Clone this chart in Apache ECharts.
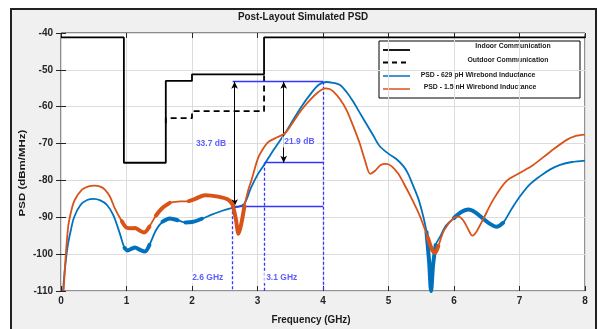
<!DOCTYPE html>
<html>
<head>
<meta charset="utf-8">
<script src="https://cdn.jsdelivr.net/npm/echarts@6/dist/echarts.min.js"></script>
<style>
  html, body { margin: 0; padding: 0; background: #fff; }
  #chart { width: 598px; height: 329px; }
</style>
</head>
<body>
<div id="chart"></div>
<script>
// PSD curves (GHz, dBm/MHz)
const freq629 = [0.03, 0.06, 0.1, 0.15, 0.2, 0.3, 0.4, 0.5, 0.6, 0.7, 0.8, 0.9, 0.97, 1.02, 1.08, 1.13, 1.2, 1.28, 1.35, 1.45, 1.55, 1.66, 1.78, 1.9, 2.0, 2.15, 2.3, 2.45, 2.6, 2.7, 2.8, 2.9, 3.0, 3.1, 3.25, 3.42, 3.55, 3.67, 3.8, 3.93, 4.05, 4.15, 4.26, 4.36, 4.46, 4.56, 4.67, 4.77, 4.87, 5.02, 5.12, 5.23, 5.3, 5.38, 5.46, 5.53, 5.58, 5.62, 5.65, 5.68, 5.72, 5.79, 5.88, 6.0, 6.1, 6.22, 6.32, 6.44, 6.55, 6.65, 6.75, 6.87, 7.0, 7.15, 7.31, 7.47, 7.62, 7.8, 8.0];
const psd629 = [-110, -104, -98, -93.5, -90, -86.6, -85.3, -85.0, -85.4, -86.6, -89.5, -94.5, -98.3, -99, -98.5, -98.2, -98.8, -99.3, -97.5, -93.5, -91.2, -90.3, -90.8, -91.4, -91.3, -90.4, -89.3, -88.3, -87.5, -87.2, -86.3, -82, -78.5, -75.8, -71.6, -67.2, -63.4, -60, -56.8, -54.1, -53.3, -53.5, -54.1, -56, -58.6, -61.6, -64.9, -67.9, -70.8, -73.0, -74.2, -76.2, -78.2, -81.6, -85.2, -89.7, -94, -102, -110, -103, -97.5, -95.2, -92.2, -90.2, -88.7, -87.9, -88.6, -90.3, -91.8, -92.6, -91.5, -88, -84.5, -81.2, -78.9, -77, -75.8, -75, -74.6];

const freq15 = [0.04, 0.07, 0.11, 0.16, 0.21, 0.32, 0.42, 0.51, 0.6, 0.67, 0.75, 0.82, 0.93, 1.0, 1.08, 1.13, 1.2, 1.27, 1.35, 1.45, 1.54, 1.66, 1.82, 1.95, 2.05, 2.2, 2.4, 2.55, 2.62, 2.67, 2.71, 2.75, 2.8, 2.86, 2.91, 3.01, 3.1, 3.17, 3.3, 3.42, 3.55, 3.67, 3.8, 3.93, 4.03, 4.1, 4.16, 4.26, 4.36, 4.46, 4.56, 4.64, 4.72, 4.8, 4.88, 4.97, 5.05, 5.15, 5.23, 5.35, 5.48, 5.6, 5.67, 5.71, 5.76, 5.85, 6.0, 6.07, 6.14, 6.21, 6.28, 6.35, 6.44, 6.6, 6.8, 7.0, 7.21, 7.47, 7.72, 7.85, 8.0];
const psd15 = [-110, -101, -92.5, -88, -85.3, -82.5, -81.6, -81.4, -81.7, -82.5, -84.5, -87.5, -91.1, -92.8, -93, -92.9, -93.6, -94.1, -92.5, -89.5, -87.6, -86.1, -85.7, -85.6, -85, -84, -84.4, -85.2, -86.5, -90.5, -94.5, -92, -87, -82.5, -79.8, -73.9, -71, -69.5, -68.3, -67.2, -64, -60.9, -58.2, -56, -55.0, -55.2, -55.9, -58, -60.9, -65.2, -69.9, -74.5, -78.2, -77.3, -75.8, -75.5, -76.2, -78.2, -80.7, -84.8, -89.7, -95.5, -99, -99.6, -97.8, -93.5, -90.1, -89.8, -90.8, -93, -95, -93.7, -90.7, -85.2, -80.2, -78, -75.8, -72.2, -69.0, -68, -67.6];

// spectral masks (outdoor only where it differs from indoor)
const indoorFreq = [0, 0.96, 0.96, 1.6, 1.6, 2.0, 2.0, 3.1, 3.1, 8];
const indoorPsd = [-41.2, -41.2, -75.2, -75.2, -53.0, -53.0, -51.2, -51.2, -41.2, -41.2];
const outdoorFreq = [1.6, 1.6, 2.0, 2.0, 3.1, 3.1];
const outdoorPsd = [-64.5, -63.1, -63.1, -61.2, -61.2, -51.2];

// frequency ranges where the traces are drawn as a thick ripple band
const band629 = [[0.97, 1.36], [1.55, 1.8], [1.9, 2.15], [5.58, 5.72], [6.0, 6.75]];
const band15 = [[0.93, 1.36], [1.45, 1.72], [1.95, 2.62], [2.62, 2.8], [5.6, 5.8]];

// annotation values
const refTop = -53.2, refLow = -87.0, refMid = -75.2;
const fLeft = 2.62, fMid = 3.11, fPeak = 4.0;
const arrowX = [2.65, 3.4];
const annotText = ['33.7 dB', '21.9 dB', '2.6 GHz', '3.1 GHz'];
const annotX = [2.29, 3.64, 2.24, 3.37];
const annotY = [-70.1, -69.6, -106.4, -106.4];

const xTicks = [0, 1, 2, 3, 4, 5, 6, 7, 8];
const yTicks = [-110, -100, -90, -80, -70, -60, -50, -40];

const FONT = "'Liberation Sans', Arial, sans-serif";
const BLUE = '#0072BD', ORANGE = '#D95319', REF = '#3434ff';
const NARROW = 0.86; // the original uses a condensed face

function pairs(xs, ys) { return xs.map((x, i) => [x, ys[i]]); }
function bandSeries(xs, ys, ranges, color, z) {
  return ranges.map(r => ({
    type: 'line', symbol: 'none', silent: true, z: z, smooth: 0.3,
    data: pairs(xs, ys).filter(p => p[0] >= r[0] && p[0] <= r[1]),
    lineStyle: { color: color, width: 4, cap: 'round', join: 'round' }
  }));
}
function narrowText(text, x, y, size, extra) {
  return Object.assign({
    type: 'text', x: x, y: y, scaleX: NARROW, silent: true,
    style: { text: text, font: 'bold ' + size + 'px ' + FONT, fill: '#1a1a1a', align: 'center', verticalAlign: 'middle' }
  }, extra || {});
}

const chart = echarts.init(document.getElementById('chart'));

const axisLabelStyle = { color: '#262626', fontFamily: FONT, fontWeight: 'bold', fontSize: 10 };
const tickStyle = { show: true, inside: true, length: 5, lineStyle: { color: '#262626' } };

const option = {
  animation: false,
  backgroundColor: '#fff',
  grid: {
    left: 61, top: 33, width: 524, height: 258, show: true,
    backgroundColor: '#fff', borderColor: '#262626', borderWidth: 1
  },
  xAxis: [
    {
      type: 'value', min: xTicks[0], max: xTicks[xTicks.length - 1], interval: 1,
      axisLine: { show: false }, axisTick: tickStyle,
      axisLabel: Object.assign({ margin: 5 }, axisLabelStyle),
      splitLine: { show: true, lineStyle: { color: '#dcdcdc' } }
    },
    {
      type: 'value', position: 'top', min: 0, max: 8, interval: 1,
      axisLine: { show: false }, axisTick: tickStyle, axisLabel: { show: false }, splitLine: { show: false }
    }
  ],
  yAxis: [
    {
      type: 'value', min: yTicks[0], max: yTicks[yTicks.length - 1], interval: 10,
      axisLine: { show: false }, axisTick: tickStyle,
      axisLabel: Object.assign({ margin: 8 }, axisLabelStyle),
      splitLine: { show: true, lineStyle: { color: '#dcdcdc' } }
    },
    {
      type: 'value', position: 'right', min: -110, max: -40, interval: 10,
      axisLine: { show: false }, axisTick: tickStyle, axisLabel: { show: false }, splitLine: { show: false }
    }
  ],
  series: [
    {
      name: 'Outdoor Communication', type: 'line', symbol: 'none', z: 2,
      data: pairs(outdoorFreq, outdoorPsd),
      lineStyle: { color: '#000', width: 1.8, type: [6, 4] }
    },
    {
      name: 'Indoor Communication', type: 'line', symbol: 'none', z: 3,
      data: pairs(indoorFreq, indoorPsd),
      lineStyle: { color: '#000', width: 1.8 }
    },
    {
      name: 'PSD - 629 pH Wirebond Inductance', type: 'line', symbol: 'none', smooth: 0.3, z: 4,
      data: pairs(freq629, psd629), lineStyle: { color: BLUE, width: 1.8 }
    },
    ...bandSeries(freq629, psd629, band629, BLUE, 4),
    {
      name: 'PSD - 1.5 nH Wirebond Inductance', type: 'line', symbol: 'none', smooth: 0.3, z: 5,
      data: pairs(freq15, psd15), lineStyle: { color: ORANGE, width: 1.8 }
    },
    ...bandSeries(freq15, psd15, band15, ORANGE, 5),
    {
      // reference lines
      type: 'line', data: [], z: 6, silent: true,
      markLine: {
        symbol: 'none', silent: true, animation: false, label: { show: false },
        lineStyle: { color: REF, width: 1.3, type: 'solid' },
        data: [
          [{ coord: [fLeft, refTop] }, { coord: [fPeak, refTop] }],
          [{ coord: [fMid, refMid] }, { coord: [fPeak, refMid] }],
          [{ coord: [fLeft, refLow] }, { coord: [fPeak, refLow] }],
          [{ coord: [fLeft, refLow], lineStyle: { type: [3, 2] } }, { coord: [fLeft, -110] }],
          [{ coord: [fMid, refMid], lineStyle: { type: [3, 2] } }, { coord: [fMid, -110] }],
          [{ coord: [fPeak, refTop], lineStyle: { type: [3, 2] } }, { coord: [fPeak, -110] }]
        ]
      }
    },
    {
      // double-headed arrows
      type: 'line', data: [], z: 7, silent: true,
      markLine: {
        symbol: ['arrow', 'arrow'], symbolSize: [5, 7], silent: true, animation: false,
        label: { show: false },
        lineStyle: { color: '#000', width: 1, type: 'solid' },
        data: [
          [{ coord: [arrowX[0], refTop] }, { coord: [arrowX[0], refLow] }],
          [{ coord: [arrowX[1], refTop] }, { coord: [arrowX[1], refMid] }]
        ]
      }
    },
    {
      type: 'scatter', symbolSize: 0, z: 8, silent: true,
      data: annotText.map((t, i) => ({ value: [annotX[i], annotY[i]], name: t })),
      label: {
        show: true, position: 'inside', formatter: p => p.name,
        color: REF, fontFamily: FONT, fontWeight: 'bold', fontSize: 8.5,
        backgroundColor: '#fff', padding: [1, 2]
      }
    }
  ],
  graphic: [
    {
      type: 'rect', z: -10, silent: true,
      shape: { x: 11, y: 9, width: 585, height: 330 },
      style: { fill: '#f0f0f0', stroke: '#222', lineWidth: 2 }
    },
    narrowText('Post-Layout Simulated PSD', 303, 17, 11.5),
    narrowText('Frequency (GHz)', 311, 320, 11.5),
    narrowText('PSD (dBm/MHz)', 22, 173, 11.5, { rotation: Math.PI / 2, scaleX: 1, scaleY: NARROW }),
    {
      type: 'group', z: 100,
      children: [
        { type: 'rect', shape: { x: 379, y: 41, width: 201, height: 57 }, style: { fill: '#fff', stroke: '#000', lineWidth: 1 } },
        { type: 'line', shape: { x1: 383, y1: 50, x2: 410, y2: 50 }, style: { stroke: '#000', lineWidth: 1.8 } },
        { type: 'line', shape: { x1: 383, y1: 62.5, x2: 410, y2: 62.5 }, style: { stroke: '#000', lineWidth: 1.8, lineDash: [5, 4] } },
        { type: 'line', shape: { x1: 383, y1: 76, x2: 410, y2: 76 }, style: { stroke: BLUE, lineWidth: 1.5 } },
        { type: 'line', shape: { x1: 383, y1: 89, x2: 410, y2: 89 }, style: { stroke: ORANGE, lineWidth: 1.5 } },
        narrowText('Indoor Communication', 513, 46, 8),
        narrowText('Outdoor Communication', 508, 60, 8),
        narrowText('PSD - 629 pH Wirebond Inductance', 478, 74.5, 8),
        narrowText('PSD - 1.5 nH Wirebond Inductance', 480, 87, 8)
      ]
    }
  ]
};

chart.setOption(option);
</script>
</body>
</html>
